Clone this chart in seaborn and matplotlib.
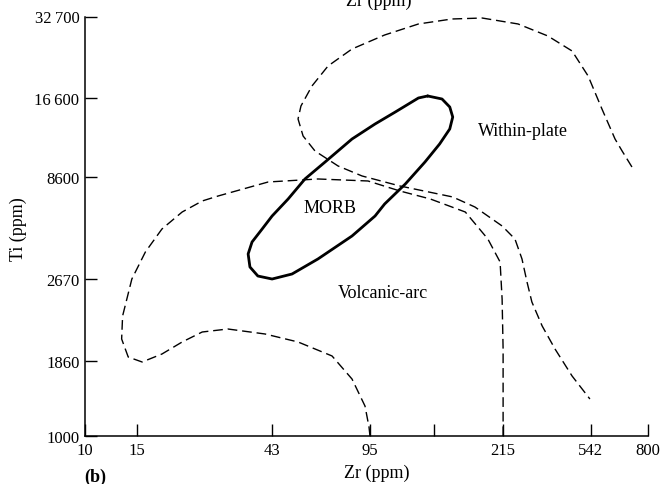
import matplotlib
matplotlib.use("Agg")
import matplotlib.pyplot as plt
import seaborn as sns

# -----------------------------------
# Boundary curves, Zr (ppm) vs Ti (ppm)
# -----------------------------------
# Within-plate field boundary
wp_zr = [706, 654, 619, 559, 502, 443, 367, 291, 220, 174, 134, 103, 79.9, 66.3,
         58.5, 53.7, 52.5, 54.6, 59.9, 71.7, 86.4, 116, 175, 208, 257, 284, 300,
         312, 324, 351, 388, 443, 509]
wp_ti = [9359, 10690, 11810, 15160, 19940, 24550, 27810, 30730, 32290, 32030,
         30730, 28040, 24960, 21670, 18350, 15540, 13950, 12110, 10690, 9437,
         8685, 7992, 7294, 6710, 5731, 5144, 4357, 3597, 3047, 2496, 2061, 1647,
         1360]

# Volcanic-arc field boundary
va_zr = [91.9, 91.2, 88.4, 79.9, 68.4, 52.5, 40.6, 30.4, 24.9, 21.3, 18.2, 15.6,
         14.0, 13.3, 13.4, 14.4, 16.0, 18.2, 21.3, 24.9, 28.2, 41.6, 61.3, 90.5,
         116, 147, 193, 230, 253, 257, 259, 259]
va_ti = [1000, 1078, 1283, 1606, 1945, 2185, 2335, 2434, 2374, 2185, 1977, 1850,
         1928, 2240, 2712, 3688, 4618, 5589, 6437, 7055, 7355, 8262, 8471, 8331,
         7666, 7173, 6437, 5144, 4249, 3123, 2061, 1000]

# MORB field (closed)
morb_zr = [144, 161, 171, 175, 171, 158, 141, 121, 103, 95.6, 79.9, 61.3, 50.1,
           42.9, 38.4, 36.1, 35.6, 36.7, 39.7, 42.9, 48.6, 55.4, 64.8, 79.9, 95.6,
           112, 134, 144]
morb_ti = [16890, 16470, 15410, 14180, 12840, 11330, 9756, 8126, 6881, 6227, 5273,
           4357, 3845, 3688, 3781, 4076, 4542, 5017, 5589, 6227, 7173, 8471, 9756,
           11810, 13380, 14790, 16610, 16890]

# Tick marks as printed on the diagram
x_tick_at = [10, 15, 43, 92, 151, 258, 513, 800]
x_tick_text = ['10', '15', '43', '95', '', '215', '542', '800']
y_tick_at = [1000, 1860, 3690, 8600, 16600, 32700]
y_tick_text = ['1000', '1860', '2670', '8600', '16\u2009600', '32\u2009700']

# Field names and where they sit
field_names = ['Within-plate', 'MORB', 'Volcanic-arc']
field_zr = [302, 67.3, 102]
field_ti = [12630, 6710, 3310]

# -----------------------------------
# Style
# -----------------------------------
sns.set_theme(style="ticks", rc={
    "axes.edgecolor": "black", "text.color": "black",
    "xtick.color": "black", "ytick.color": "black",
    "axes.labelcolor": "black",
})
plt.rcParams['font.family'] = ['Liberation Serif', 'DejaVu Serif']

fig = plt.figure(figsize=(6.62, 4.85), dpi=100)
ax = fig.add_axes([85 / 662, 1 - 437 / 485, 563 / 662, 419.5 / 485])

dash = (0, (7, 3.5))
sns.lineplot(x=wp_zr, y=wp_ti, sort=False, estimator=None, ax=ax,
             color='black', lw=1.0, linestyle=dash)
sns.lineplot(x=va_zr, y=va_ti, sort=False, estimator=None, ax=ax,
             color='black', lw=1.0, linestyle=dash)
sns.lineplot(x=morb_zr, y=morb_ti, sort=False, estimator=None, ax=ax,
             color='black', lw=2.0, solid_joinstyle='round')

ax.set_xscale('log')
ax.set_yscale('log')
ax.set_xlim(10, 800)
ax.set_ylim(1000, 32700)

ax.set_xticks(x_tick_at, x_tick_text)
ax.set_yticks(y_tick_at, y_tick_text)
ax.minorticks_off()
ax.tick_params(direction='in', length=8.5, width=1.0, labelsize=12, pad=4)

sns.despine(ax=ax)
for s in ['left', 'bottom']:
    ax.spines[s].set_linewidth(1.1)

for name, zx, ty in zip(field_names, field_zr, field_ti):
    ax.text(zx, ty, name, ha='center', va='center', fontsize=13)

# axis labels and panel letter
fig.text(377 / 662, 1 - 473 / 485, 'Zr (ppm)', ha='center', va='center', fontsize=13)
fig.text(18 / 662, 1 - 229 / 485, 'Ti (ppm)', ha='center', va='center',
         rotation=90, fontsize=13)
fig.text(95 / 662, 1 - 477 / 485, '(b)', ha='center', va='center',
         fontsize=13, fontweight='bold')
# bottom of the label from the panel above, cut by the page edge
fig.text(379 / 662, 1 - 5.5 / 485, 'Zr (ppm)', ha='center', va='baseline', fontsize=13)

fig.savefig('out.png', dpi=100)
